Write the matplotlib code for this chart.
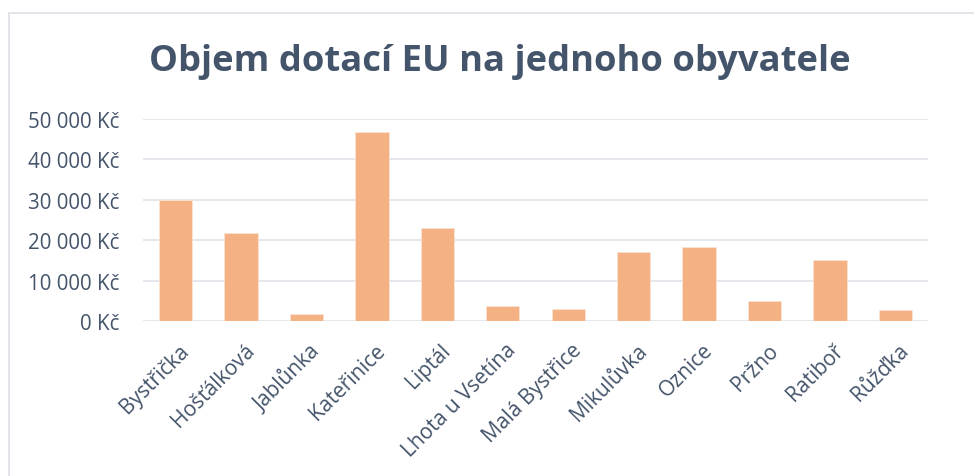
"""
Objem dotací EU na jednoho obyvatele - sloupcový graf podle obcí
"""
import matplotlib
matplotlib.use("Agg")
import matplotlib.pyplot as plt
import matplotlib.transforms as mtransforms
from matplotlib.patches import Rectangle
from matplotlib.ticker import FuncFormatter

# data
obce = ['Bystřička', 'Hošťálková', 'Jablůnka', 'Kateřinice', 'Liptál',
        'Lhota u Vsetína', 'Malá Bystřice', 'Mikulůvka', 'Oznice', 'Pržno',
        'Ratiboř', 'Růžďka']
dotace = [29900, 21700, 1800, 46800, 23100, 3700, 3000, 17100, 18300, 4900,
          15200, 2900]
y_ticks = [0, 10000, 20000, 30000, 40000, 50000]

title = 'Objem dotací EU na jednoho obyvatele'
text_color = '#44546A'
bar_color = '#F4B183'
grid_color = '#DCE0E6'

plt.rcParams['font.family'] = ['Open Sans', 'DejaVu Sans']

W, H = 974, 477
fig = plt.figure(figsize=(W / 100, H / 100), dpi=100)
ax = fig.add_axes([143 / W, 1 - 322.3 / H, (928 - 143) / W, (322.3 - 119.7) / H])

x = range(len(obce))
ax.bar(x, dotace, width=0.51, color=bar_color, edgecolor='#FBE3D2', linewidth=0.6, zorder=3)

ax.set_xlim(-0.5, len(obce) - 0.5)
ax.set_ylim(0, 50000)
ax.set_yticks(y_ticks)
ax.yaxis.set_major_formatter(FuncFormatter(lambda v, p: f"{int(v):,} Kč".replace(',', ' ')))
ax.grid(axis='y', color=grid_color, linewidth=1.1, zorder=0)
ax.set_axisbelow(True)

for s in ax.spines.values():
    s.set_visible(False)

ax.tick_params(axis='y', length=0, pad=17, labelsize=14.8, labelcolor=text_color)
ax.tick_params(axis='x', length=0, pad=13, labelsize=15.1, labelcolor=text_color)
ax.set_xticks(list(x))
ax.set_xticklabels(obce, rotation=45, ha='right', va='top', rotation_mode='anchor')
# popisky trochu doprava
posun = mtransforms.ScaledTranslation(3 / 100, 0, fig.dpi_scale_trans)
for lbl in ax.get_xticklabels():
    lbl.set_transform(lbl.get_transform() + posun)

fig.text(500 / W, 1 - 62 / H, title, ha='center', va='center',
         fontsize=26.2, fontweight='bold', color=text_color)

# rámeček oblasti grafu (oříznutý vpravo a dole)
fig.patches.append(Rectangle((8.5 / W, -0.1), 1.2, 1.1 - 14 / H, transform=fig.transFigure,
                             fill=False, edgecolor='#DDE1E8', linewidth=1.2))

fig.savefig('out.png', dpi=100)
plt.close(fig)
